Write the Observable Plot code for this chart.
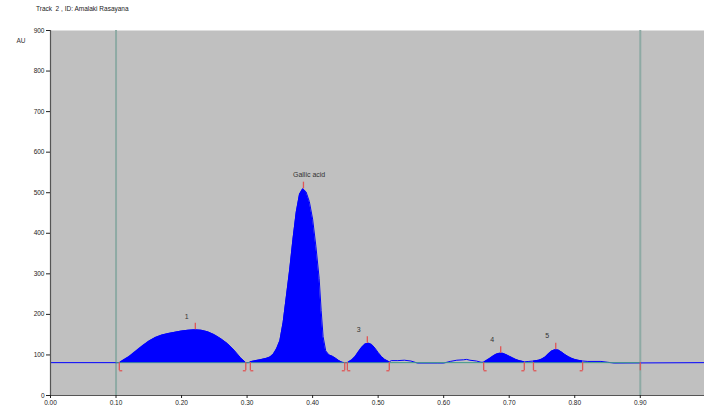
<!DOCTYPE html>
<html>
<head>
<meta charset="utf-8">
<script src="https://cdn.jsdelivr.net/npm/d3@7"></script>
<script src="https://cdn.jsdelivr.net/npm/@observablehq/plot@0.6"></script>
<style>
  body { margin: 0; background: #fff; font-family: "Liberation Sans", Arial, sans-serif; }
  #title { height: 18px; box-sizing: border-box; padding: 6px 0 0 36px; font-size: 6.5px; line-height: 1; color: #222; }
  #chart svg { display: block; }
</style>
</head>
<body>
<div id="title">Track&nbsp; 2 , ID: Amalaki Rasayana</div>
<div id="chart"></div>
<script>
// ---- data ----
const rfValues = [
  0, 0.105,
  0.11, 0.12, 0.13, 0.14, 0.15, 0.16, 0.17, 0.18, 0.19, 0.20, 0.21, 0.22, 0.23, 0.24, 0.25, 0.26, 0.27, 0.28, 0.29, 0.298,
  0.302,
  0.305, 0.31, 0.32, 0.33, 0.335, 0.34, 0.345, 0.35, 0.355, 0.36, 0.365, 0.37, 0.375, 0.38, 0.385, 0.39, 0.395, 0.40, 0.405, 0.41, 0.413, 0.416, 0.42, 0.425, 0.43, 0.435, 0.44, 0.445, 0.449,
  0.453, 0.46, 0.465, 0.47, 0.475, 0.48, 0.485, 0.49, 0.495, 0.50, 0.505, 0.51, 0.517,
  0.52, 0.53, 0.54, 0.55, 0.56, 0.59, 0.60, 0.61, 0.62, 0.63, 0.635, 0.64, 0.65, 0.657,
  0.661, 0.665, 0.67, 0.675, 0.68, 0.685, 0.69, 0.695, 0.70, 0.705, 0.71, 0.715, 0.723,
  0.73,
  0.737, 0.745, 0.75, 0.755, 0.76, 0.765, 0.77, 0.775, 0.78, 0.785, 0.79, 0.795, 0.80, 0.805, 0.812,
  0.82, 0.84, 0.85, 0.86, 0.998
];
const auValues = [
  81, 81,
  86, 96, 109, 122, 134, 143, 149, 153, 156, 159, 161, 162, 161, 157, 150, 140, 128, 112, 93, 81,
  81,
  83, 85, 88, 92, 95, 102, 115, 135, 180, 245, 310, 385, 452, 496, 510, 502, 478, 435, 368, 288, 210, 145, 110, 100, 97, 92, 86, 82, 81,
  81, 88, 96, 108, 119, 127, 129, 126, 117, 106, 96, 89, 83,
  86, 86, 87, 85, 80, 80, 80, 84, 87, 88, 89, 87, 85, 82,
  82, 86, 91, 97, 102, 104, 104, 101, 97, 93, 89, 86, 83,
  84,
  85, 87, 90, 95, 103, 110, 113, 112, 107, 101, 96, 92, 89, 87, 85,
  84, 84, 82, 80, 81
];
const baselineAU = 81;
const peakStart = [0.105, 0.305, 0.453, 0.661, 0.737];
const peakEnd   = [0.298, 0.449, 0.517, 0.723, 0.812];
const peakRf    = [0.221, 0.386, 0.4835, 0.687, 0.771];
const peakAU    = [162, 510, 129, 104, 113];
const peakLabels = ["1", "Gallic acid", "3", "4", "5"];
const trackLimits = [0.10, 0.90];
const xTicks = [0, 0.1, 0.2, 0.3, 0.4, 0.5, 0.6, 0.7, 0.8, 0.9];
const yTicks = [0, 100, 200, 300, 400, 500, 600, 700, 800, 900];

// ---- tables built from the arrays ----
const signal = rfValues.map((rf, i) => {
  const p = peakStart.findIndex((s, j) => rf >= s && rf <= peakEnd[j]);
  return { rf, au: auValues[i], peak: p };
});
const filled = signal.filter(d => d.peak >= 0);
const peaks = peakRf.map((rf, i) => ({ rf, au: peakAU[i], label: peakLabels[i], start: peakStart[i], end: peakEnd[i] }));

const markLen = 20;   // AU below baseline for boundary markers
const footLen = 0.0045;
const red = "#e05656";

const chart = Plot.plot({
  width: 704,
  height: 392,
  marginTop: 12,
  marginBottom: 15,
  marginLeft: 50,
  marginRight: 0,
  style: { background: "white", fontFamily: "Liberation Sans, Arial, sans-serif", fontSize: "6.5px", color: "#222" },
  x: { domain: [0, 0.998] },
  y: { domain: [0, 900] },
  marks: [
    Plot.frame({ fill: "#c0c0c0", stroke: null }),
    Plot.ruleX(trackLimits, { stroke: "#8eaaa4", strokeWidth: 2 }),
    Plot.line(signal, { x: "rf", y: "au", stroke: "#0000ff", strokeWidth: 1 }),
    Plot.ruleY([baselineAU], { x1: trackLimits[0], x2: trackLimits[1], stroke: "#3f9a8a", strokeWidth: 1 }),
    Plot.areaY(filled, { x: "rf", y1: baselineAU, y2: "au", z: "peak", fill: "#0000ff" }),
    // peak boundary markers
    Plot.ruleX(peaks, { x: "start", y1: baselineAU, y2: baselineAU - markLen, stroke: red, strokeWidth: 1.3 }),
    Plot.link(peaks, { x1: "start", x2: d => d.start + footLen, y1: baselineAU - markLen, y2: baselineAU - markLen, stroke: red, strokeWidth: 1.3 }),
    Plot.ruleX(peaks, { x: "end", y1: baselineAU, y2: baselineAU - markLen, stroke: red, strokeWidth: 1.3 }),
    Plot.link(peaks, { x1: "end", x2: d => d.end - footLen, y1: baselineAU - markLen, y2: baselineAU - markLen, stroke: red, strokeWidth: 1.3 }),
    Plot.ruleX([trackLimits[1]], { y1: baselineAU, y2: baselineAU - markLen, stroke: red, strokeWidth: 1.3 }),
    // peak max ticks and labels
    Plot.ruleX(peaks, { x: "rf", y1: "au", y2: d => d.au + 16, stroke: red, strokeWidth: 1.3 }),
    Plot.text(peaks, { x: "rf", y: "au", text: "label", dx: -10.5, dy: -13.5, textAnchor: "start", fontSize: 7, fill: "#333" }),
    // axes
    Plot.ruleX([0], { stroke: "#555", strokeWidth: 1.2 }),
    Plot.ruleY([0], { stroke: "#555", strokeWidth: 1 }),
    Plot.axisX({ ticks: xTicks, tickFormat: d3.format(".2f"), tickSize: 3, tickPadding: 2, label: null, fontSize: 6.5 }),
    Plot.axisY({ ticks: yTicks, tickSize: 4, tickPadding: 2, label: null, fontSize: 6.5 }),
    Plot.text(["AU"], { frameAnchor: "top-left", dx: -34, dy: 8, fontSize: 6.5, fill: "#333" })
  ]
});
document.getElementById("chart").appendChild(chart);
</script>
</body>
</html>
